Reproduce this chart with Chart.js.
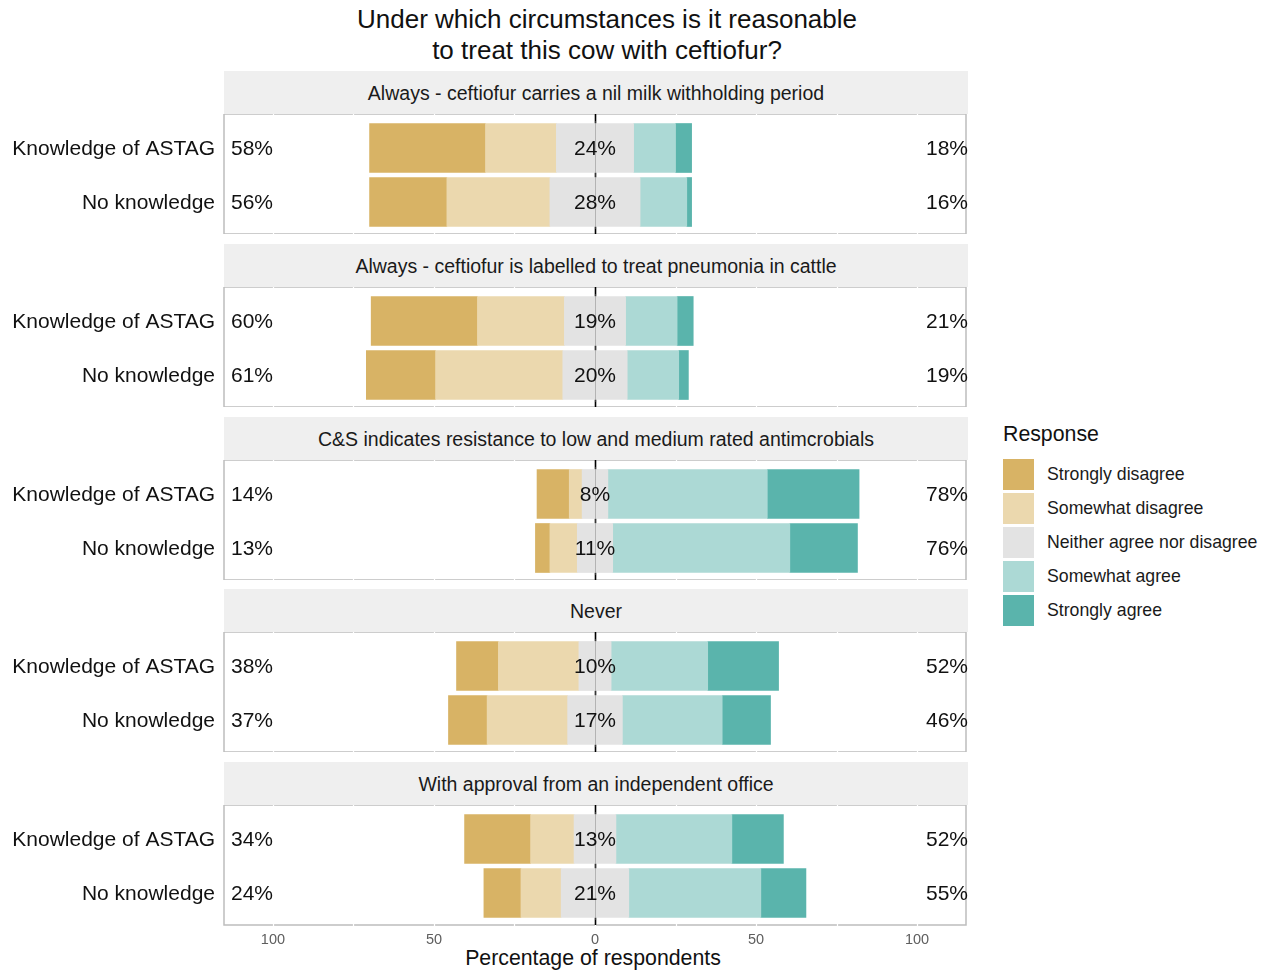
<!DOCTYPE html>
<html>
<head>
<meta charset="utf-8">
<script src="https://cdn.jsdelivr.net/npm/chart.js@4.4.1/dist/chart.umd.min.js"></script>
<style>
  body { margin:0; background:#fff; width:1275px; height:970px; overflow:hidden;
         font-family:"Liberation Sans", Arial, sans-serif; color:#111; }
  #root { position:relative; width:1275px; height:970px; }
  .title { position:absolute; left:0; top:4px; width:1214px; text-align:center;
           font-size:26px; line-height:31px; color:#111; }
  .strip { position:absolute; left:224px; width:744px; height:43px; background:#efefef;
           font-size:19.5px; line-height:44px; text-align:center; color:#1a1a1a; }
  .panel { position:absolute; left:0; width:980px; }
  .xtitle { position:absolute; left:0; width:1186px; top:946px; text-align:center;
            font-size:21.3px; line-height:24px; color:#111; }
  .legend { position:absolute; left:1003px; top:421px; }
  .legend .lt { font-size:21.3px; line-height:26px; margin-bottom:10px; color:#111; }
  .legend .it { display:flex; align-items:center; height:34px; }
  .legend .key { width:31px; height:31px; margin-right:13px; }
  .legend .lab { font-size:17.7px; color:#1a1a1a; }
</style>
</head>
<body>
<div id="root"></div>
<script>
// ---- data (facet-major order: for each facet, [Knowledge of ASTAG, No knowledge]) ----
const facets = [
  "Always - ceftiofur carries a nil milk withholding period",
  "Always - ceftiofur is labelled to treat pneumonia in cattle",
  "C&S indicates resistance to low and medium rated antimcrobials",
  "Never",
  "With approval from an independent office"
];
const groups = ["Knowledge of ASTAG", "No knowledge"];
const responses = ["Strongly disagree", "Somewhat disagree", "Neither agree nor disagree", "Somewhat agree", "Strongly agree"];
const colors = ["#d8b365", "#ebd8ae", "#e3e3e3", "#acd9d5", "#5ab4ac"];

const stronglyDisagree = [36, 24,   33, 21.5,  10, 4.5,   13, 12,   20.5, 11.5];
const somewhatDisagree = [22, 32,   27, 39.5,  4, 8.5,    25, 25,   13.5, 12.5];
const neither          = [24, 28,   19, 20,    8, 11,     10, 17,   13, 21];
const somewhatAgree    = [13, 14.5, 16, 16,    49.5, 55,  30, 31,   36, 41];
const stronglyAgree    = [5, 1.5,   5, 3,      28.5, 21,  22, 15,   16, 14];

const xTickValues = [-100, -50, 0, 50, 100];
const xGridValues = [-100, -75, -50, -25, 0, 25, 50, 75, 100];
const xMin = -115.2, xMax = 115.2;

// ---- layout ----
const PAD_T = 7, PAD_B = 5;
const root = document.getElementById('root');
const t = document.createElement('div');
t.className = 'title';
t.innerHTML = 'Under which circumstances is it reasonable<br>to treat this cow with ceftiofur?';
root.appendChild(t);

const xt = document.createElement('div');
xt.className = 'xtitle';
xt.textContent = 'Percentage of respondents';
root.appendChild(xt);

const leg = document.createElement('div');
leg.className = 'legend';
let lh = '<div class="lt">Response</div>';
responses.forEach((r, i) => {
  lh += '<div class="it"><div class="key" style="background:' + colors[i] + '"></div><div class="lab">' + r + '</div></div>';
});
leg.innerHTML = lh;
root.appendChild(leg);

const FONT = '"Liberation Sans", Arial, sans-serif';

function makePlugin(f) {
  return {
    id: 'panel' + f,
    beforeDraw(chart) {
      const { ctx, chartArea: a } = chart;
      ctx.save();
      ctx.strokeStyle = '#bdbdbd';
      ctx.lineWidth = 1.5;
      ctx.strokeRect(a.left, a.top - PAD_T, a.right - a.left, a.bottom - a.top + PAD_T + PAD_B);
      ctx.restore();
    },
    beforeDatasetsDraw(chart) {
      const { ctx, chartArea: a, scales } = chart;
      const xs = scales.x;
      ctx.save();
      ctx.strokeStyle = '#ffffff';
      ctx.lineWidth = 1.2;
      xGridValues.forEach(v => {
        const px = Math.round(xs.getPixelForValue(v)) + 0.5;
        ctx.beginPath(); ctx.moveTo(px, a.top - PAD_T - 2); ctx.lineTo(px, a.bottom + PAD_B + 2); ctx.stroke();
      });
      const x0 = Math.round(xs.getPixelForValue(0)) + 0.5;
      ctx.strokeStyle = '#000';
      ctx.lineWidth = 1.6;
      ctx.beginPath(); ctx.moveTo(x0, a.top - PAD_T); ctx.lineTo(x0, a.bottom + PAD_B); ctx.stroke();
      ctx.restore();
    },
    afterDatasetsDraw(chart) {
      const { ctx, chartArea: a, scales } = chart;
      const xs = scales.x, ys = scales.y;
      const x0 = Math.round(xs.getPixelForValue(0)) + 0.5;
      ctx.save();
      ctx.strokeStyle = 'rgba(120,120,120,0.45)';
      ctx.lineWidth = 1;
      ctx.beginPath(); ctx.moveTo(x0, a.top); ctx.lineTo(x0, a.bottom); ctx.stroke();
      ctx.fillStyle = '#111';
      ctx.font = '21px ' + FONT;
      ctx.textBaseline = 'middle';
      for (let r = 0; r < 2; r++) {
        const k = f * 2 + r;
        const y = ys.getPixelForValue(r) + 1;
        const left = Math.round(stronglyDisagree[k] + somewhatDisagree[k]);
        const mid = Math.round(neither[k]);
        const right = Math.round(somewhatAgree[k] + stronglyAgree[k]);
        ctx.textAlign = 'left';
        ctx.fillText(left + '%', a.left + 7, y);
        ctx.textAlign = 'center';
        ctx.fillText(mid + '%', xs.getPixelForValue(0), y);
        ctx.textAlign = 'right';
        ctx.fillText(right + '%', a.right + 2, y);
      }
      ctx.restore();
    }
  };
}

const pitch = 172.75;
facets.forEach((name, f) => {
  const stripTop = 71 + f * pitch;
  const panelTop = stripTop + 43;
  const s = document.createElement('div');
  s.className = 'strip';
  s.style.top = stripTop + 'px';
  s.textContent = name;
  root.appendChild(s);

  const last = f === facets.length - 1;
  const h = last ? PAD_T + 108 + 30 : 120;
  const wrap = document.createElement('div');
  wrap.className = 'panel';
  wrap.style.top = panelTop + 'px';
  wrap.style.height = h + 'px';
  const cv = document.createElement('canvas');
  wrap.appendChild(cv);
  root.appendChild(wrap);

  const idx = [f * 2, f * 2 + 1];
  const ds = [
    { label: responses[2], data: idx.map(k => -neither[k] / 2), backgroundColor: colors[2] },
    { label: responses[1], data: idx.map(k => -somewhatDisagree[k]), backgroundColor: colors[1] },
    { label: responses[0], data: idx.map(k => -stronglyDisagree[k]), backgroundColor: colors[0] },
    { label: responses[2], data: idx.map(k => neither[k] / 2), backgroundColor: colors[2] },
    { label: responses[3], data: idx.map(k => somewhatAgree[k]), backgroundColor: colors[3] },
    { label: responses[4], data: idx.map(k => stronglyAgree[k]), backgroundColor: colors[4] }
  ].map(d => Object.assign(d, { stack: 's', barThickness: 49, borderWidth: 0 }));

  new Chart(cv, {
    type: 'bar',
    data: { labels: groups, datasets: ds },
    options: {
      indexAxis: 'y',
      responsive: true,
      maintainAspectRatio: false,
      animation: false,
      devicePixelRatio: 1,
      layout: { padding: { top: PAD_T, right: 14, bottom: last ? 0 : PAD_B, left: 0 } },
      plugins: { legend: { display: false }, tooltip: { enabled: false } },
      scales: {
        y: {
          type: 'category',
          stacked: true,
          grid: { display: false, drawTicks: false },
          border: { display: false },
          ticks: { font: { size: 21, family: FONT }, color: '#111', padding: 9, labelOffset: 1 },
          afterFit: sc => { sc.width = 224; sc.paddingTop = 0; sc.paddingBottom = 0; }
        },
        x: {
          type: 'linear',
          stacked: true,
          min: xMin, max: xMax,
          display: last,
          grid: { display: false, drawTicks: false },
          border: { display: false },
          afterBuildTicks: sc => { sc.ticks = xTickValues.map(v => ({ value: v })); },
          ticks: { font: { size: 14.5, family: FONT }, color: '#5e5e5e', padding: 11,
                   autoSkip: false, maxRotation: 0, callback: v => String(Math.abs(v)) },
          afterFit: sc => { sc.height = last ? 30 : 0; sc.paddingLeft = 0; sc.paddingRight = 0; }
        }
      }
    },
    plugins: [makePlugin(f)]
  });
});
</script>
</body>
</html>
